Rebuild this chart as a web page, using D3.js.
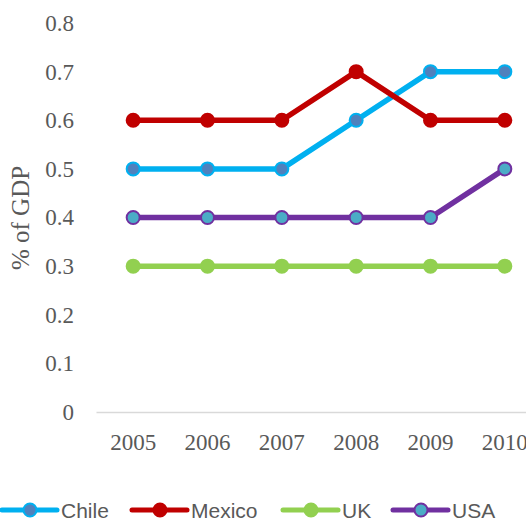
<!DOCTYPE html>
<html>
<head>
<meta charset="utf-8">
<script src="https://cdn.jsdelivr.net/npm/d3@7"></script>
<style>
  html, body { margin: 0; padding: 0; background: #fff; overflow: hidden; }
  svg { display: block; }
</style>
</head>
<body>
<svg id="chart" width="526" height="522"></svg>
<script>
// Years on the category axis
const years = ["2005", "2006", "2007", "2008", "2009", "2010"];

// Spending as % of GDP per country
const chile  = [0.5, 0.5, 0.5, 0.6, 0.7, 0.7];
const mexico = [0.6, 0.6, 0.6, 0.7, 0.6, 0.6];
const uk     = [0.3, 0.3, 0.3, 0.3, 0.3, 0.3];
const usa    = [0.4, 0.4, 0.4, 0.4, 0.4, 0.5];

// Value axis ticks
const yTicks = [0, 0.1, 0.2, 0.3, 0.4, 0.5, 0.6, 0.7, 0.8];

const series = [
  { name: "Chile",  values: chile,  line: "#00B0F0", fill: "#4F81BD", stroke: "#00B0F0" },
  { name: "Mexico", values: mexico, line: "#C00000", fill: "#C00000", stroke: "#C00000" },
  { name: "UK",     values: uk,     line: "#92D050", fill: "#92D050", stroke: "#92D050" },
  { name: "USA",    values: usa,    line: "#7030A0", fill: "#4BACC6", stroke: "#7030A0" }
];

const svg = d3.select("#chart");
const textColor = "#595959";
const serif = "'Liberation Serif', 'Times New Roman', serif";
const sans = "'Liberation Sans', Arial, sans-serif";

const x = d3.scaleBand().domain(years).range([96, 542]);
const y = d3.scaleLinear().domain([0, 0.8]).range([412, 23]);
const cx = d => x(d) + x.bandwidth() / 2;

// Value axis labels (no axis line, no gridlines)
const yAxis = d3.axisLeft(y).tickValues(yTicks).tickSize(0).tickPadding(0)
  .tickFormat(d => d === 0 ? "0" : d3.format(".1f")(d));
const gy = svg.append("g").attr("transform", "translate(74,0)").call(yAxis);
gy.select(".domain").remove();
gy.selectAll("text")
  .attr("font-family", serif).attr("font-size", 23).attr("fill", textColor);

// Category axis: baseline only
const xAxis = d3.axisBottom(x).tickSize(0).tickPadding(0);
const gx = svg.append("g").attr("transform", "translate(0,412)").call(xAxis);
gx.select(".domain").attr("stroke", "#D9D9D9").attr("stroke-width", 1.5);
gx.selectAll("text")
  .attr("font-family", serif).attr("font-size", 23).attr("fill", textColor)
  .attr("dy", null).attr("y", 38);

// Axis title
svg.append("text")
  .attr("transform", "translate(29,218) rotate(-90)")
  .attr("text-anchor", "middle")
  .attr("font-family", serif).attr("font-size", 25).attr("fill", textColor)
  .text("% of GDP");

// Lines and markers
const line = d3.line().x((v, i) => cx(years[i])).y(v => y(v));
const plot = svg.append("g");
series.forEach(s => {
  const g = plot.append("g");
  g.append("path")
    .attr("d", line(s.values))
    .attr("fill", "none").attr("stroke", s.line)
    .attr("stroke-width", 5.5).attr("stroke-linejoin", "round").attr("stroke-linecap", "round");
  g.selectAll("circle").data(s.values).join("circle")
    .attr("cx", (v, i) => cx(years[i])).attr("cy", v => y(v))
    .attr("r", 6.5).attr("fill", s.fill).attr("stroke", s.stroke).attr("stroke-width", 2);
});

// Legend
const legendX = [2, 132, 283, 393];
const legendY = 510;
const lg = svg.append("g");
series.forEach((s, i) => {
  const g = lg.append("g").attr("transform", `translate(${legendX[i]},${legendY})`);
  g.append("line").attr("x1", 0).attr("x2", 55).attr("y1", 0).attr("y2", 0)
    .attr("stroke", s.line).attr("stroke-width", 5).attr("stroke-linecap", "round");
  g.append("circle").attr("cx", 28).attr("cy", 0).attr("r", 6.5)
    .attr("fill", s.fill).attr("stroke", s.stroke).attr("stroke-width", 2);
  g.append("text").attr("x", 59).attr("y", 7.5)
    .attr("font-family", sans).attr("font-size", 21).attr("fill", textColor)
    .text(s.name);
});
</script>
</body>
</html>
